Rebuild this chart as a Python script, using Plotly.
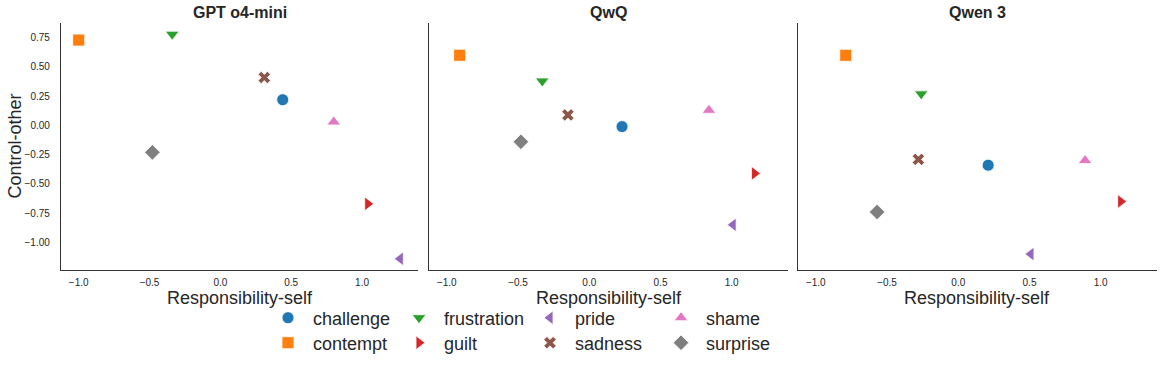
import plotly.graph_objects as go

emotions = ["challenge", "contempt", "frustration", "guilt", "pride", "sadness", "shame", "surprise"]
colors = ["#1f77b4", "#ff7f0e", "#2ca02c", "#d62728", "#9467bd", "#8c564b", "#e377c2", "#7f7f7f"]
symbols = ["circle", "square", "triangle-down", "triangle-right", "triangle-left", "x", "triangle-up", "diamond"]

models = ["GPT o4-mini", "QwQ", "Qwen 3"]

# Responsibility-self (x) per model, in emotion order
gpt_x = [0.44, -1.00, -0.34, 1.04, 1.27, 0.31, 0.80, -0.48]
qwq_x = [0.23, -0.91, -0.33, 1.16, 1.01, -0.15, 0.84, -0.48]
qwen_x = [0.21, -0.79, -0.26, 1.14, 0.51, -0.28, 0.89, -0.57]

# Control-other (y) per model, in emotion order
gpt_y = [0.22, 0.73, 0.78, -0.67, -1.14, 0.41, 0.03, -0.23]
qwq_y = [-0.01, 0.60, 0.38, -0.41, -0.85, 0.09, 0.13, -0.14]
qwen_y = [-0.34, 0.60, 0.27, -0.65, -1.10, -0.29, -0.30, -0.74]

xs = [gpt_x, qwq_x, qwen_x]
ys = [gpt_y, qwq_y, qwen_y]

x_ticks = [-1.0, -0.5, 0.0, 0.5, 1.0]
y_ticks = [-1.0, -0.75, -0.5, -0.25, 0.0, 0.25, 0.5, 0.75]

row1 = ["challenge", "frustration", "pride", "shame"]

W, H = 1163, 367
ml, mr, mt, mb = 61, 6, 23, 97
pw = W - ml - mr
px_domains = [(61, 418), (429, 788), (798, 1157)]
domains = [((a - ml) / pw, (b - ml) / pw) for a, b in px_domains]

FONT = "Liberation Sans, Arial, sans-serif"
TXT = "#262626"

fig = go.Figure()
for m in range(3):
    xa = "x" if m == 0 else f"x{m+1}"
    ya = "y" if m == 0 else f"y{m+1}"
    for i, e in enumerate(emotions):
        fig.add_trace(go.Scatter(
            x=[xs[m][i]], y=[ys[m][i]], mode="markers", name=" " + e,
            xaxis=xa, yaxis=ya,
            marker=dict(symbol=symbols[i], color=colors[i], size=12 if symbols[i] != "x" else 11,
                        line=dict(color="white", width=0.8)),
            showlegend=(m == 0),
            legend="legend" if e in row1 else "legend2",
            legendrank=i,
        ))

xr = [-1.125, 1.395]
yr = [-1.236, 0.876]
axis_common = dict(showgrid=False, zeroline=False, showline=True, linecolor="#333333", linewidth=1.3,
                   ticks="", automargin=False, tickfont=dict(size=10, color=TXT, family=FONT))
layout = dict(
    width=W, height=H,
    margin=dict(l=ml, r=mr, t=mt, b=mb, autoexpand=False),
    plot_bgcolor="white", paper_bgcolor="white",
    font=dict(family=FONT, color=TXT),
    annotations=[],
)
for m in range(3):
    xk = "xaxis" if m == 0 else f"xaxis{m+1}"
    yk = "yaxis" if m == 0 else f"yaxis{m+1}"
    layout[xk] = dict(axis_common, domain=list(domains[m]), range=xr, tickvals=x_ticks,
                      ticktext=[f"{v:.1f}".replace("-", "\u2212") for v in x_ticks],
                      anchor="y" if m == 0 else f"y{m+1}", ticklabelstandoff=3)
    layout[yk] = dict(axis_common, domain=[0, 1], range=yr, tickvals=y_ticks,
                      ticktext=[f"{v:.2f}".replace("-", "\u2212") for v in y_ticks],
                      showticklabels=(m == 0), ticklabelstandoff=8,
                      anchor="x" if m == 0 else f"x{m+1}")
    layout["annotations"].append(dict(
        text=f"<b>{models[m]}</b>", xref="paper", yref="paper",
        x=sum(domains[m]) / 2, y=1, yshift=11, yanchor="middle", xanchor="center",
        showarrow=False, font=dict(size=16, color=TXT, family=FONT)))
    layout["annotations"].append(dict(
        text="Responsibility-self", xref="paper", yref="paper",
        x=sum(domains[m]) / 2, y=0, yshift=-28, yanchor="middle", xanchor="center",
        showarrow=False, font=dict(size=18, color=TXT, family=FONT)))
layout["annotations"].append(dict(
    text="Control-other", xref="paper", yref="paper", textangle=-90,
    x=0, xshift=-47, y=0.5, xanchor="center", yanchor="middle",
    showarrow=False, font=dict(size=18, color=TXT, family=FONT)))

leg_common = dict(orientation="h", xref="container", yref="container", xanchor="left", yanchor="middle",
                  x=268 / W, font=dict(size=18, color=TXT, family=FONT), entrywidth=86,
                  entrywidthmode="pixels", bgcolor="rgba(0,0,0,0)", traceorder="normal")
layout["legend"] = dict(leg_common, y=1 - 318 / H)
layout["legend2"] = dict(leg_common, y=1 - 343 / H)

fig.update_layout(**layout)
fig.write_html("out.html", config={"displayModeBar": False},
               post_script="document.body.style.margin='0';")
